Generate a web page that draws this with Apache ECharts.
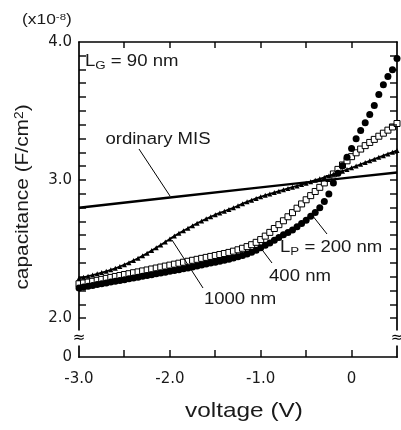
<!DOCTYPE html>
<html>
<head>
<meta charset="utf-8">
<script src="https://cdn.jsdelivr.net/npm/echarts@6/dist/echarts.min.js"></script>
<style>
html, body { margin: 0; padding: 0; background: #fff; }
#chart { width: 401px; height: 430px; }
</style>
</head>
<body>
<div id="chart"></div>
<script>
// gate voltage (V), same sweep for the three L_P curves
const voltage = [
  -3.00, -2.95, -2.90, -2.85, -2.80, -2.75, -2.70, -2.65, -2.60, -2.55,
  -2.50, -2.45, -2.40, -2.35, -2.30, -2.25, -2.20, -2.15, -2.10, -2.05,
  -2.00, -1.95, -1.90, -1.85, -1.80, -1.75, -1.70, -1.65, -1.60, -1.55,
  -1.50, -1.45, -1.40, -1.35, -1.30, -1.25, -1.20, -1.15, -1.10, -1.05,
  -1.00, -0.95, -0.90, -0.85, -0.80, -0.75, -0.70, -0.65, -0.60, -0.55,
  -0.50, -0.45, -0.40, -0.35, -0.30, -0.25, -0.20, -0.15, -0.10, -0.05,
  0.00, 0.05, 0.10, 0.15, 0.20, 0.25, 0.30, 0.35, 0.40, 0.45, 0.50
];
// capacitance (x1e-8 F/cm2)
const cap200 = [
  2.220, 2.226, 2.232, 2.238, 2.244, 2.250, 2.256, 2.262, 2.268, 2.274,
  2.280, 2.286, 2.292, 2.298, 2.304, 2.310, 2.316, 2.322, 2.328, 2.334,
  2.340, 2.346, 2.352, 2.358, 2.365, 2.372, 2.379, 2.386, 2.393, 2.400,
  2.406, 2.413, 2.420, 2.428, 2.436, 2.445, 2.455, 2.466, 2.478, 2.492,
  2.510, 2.528, 2.546, 2.565, 2.585, 2.604, 2.622, 2.640, 2.662, 2.686,
  2.710, 2.738, 2.766, 2.800, 2.845, 2.900, 2.980, 3.050, 3.105, 3.165,
  3.230, 3.300, 3.360, 3.415, 3.475, 3.540, 3.620, 3.690, 3.750, 3.800, 3.880
];
const cap400 = [
  2.250, 2.256, 2.262, 2.268, 2.275, 2.282, 2.289, 2.296, 2.303, 2.310,
  2.317, 2.323, 2.330, 2.336, 2.343, 2.350, 2.357, 2.364, 2.371, 2.378,
  2.385, 2.392, 2.399, 2.406, 2.413, 2.420, 2.427, 2.434, 2.441, 2.448,
  2.455, 2.462, 2.469, 2.477, 2.486, 2.496, 2.507, 2.519, 2.533, 2.550,
  2.570, 2.595, 2.622, 2.650, 2.678, 2.706, 2.735, 2.765, 2.797, 2.828,
  2.858, 2.888, 2.918, 2.948, 2.980, 3.012, 3.045, 3.078, 3.110, 3.140,
  3.170, 3.198, 3.225, 3.250, 3.273, 3.295, 3.318, 3.340, 3.362, 3.385, 3.410
];
const cap1000 = [
  2.290, 2.297, 2.305, 2.313, 2.322, 2.331, 2.340, 2.351, 2.362, 2.375,
  2.388, 2.403, 2.418, 2.435, 2.452, 2.471, 2.490, 2.510, 2.530, 2.552,
  2.575, 2.595, 2.615, 2.634, 2.652, 2.670, 2.688, 2.704, 2.720, 2.735,
  2.750, 2.763, 2.775, 2.788, 2.800, 2.815, 2.830, 2.843, 2.855, 2.868,
  2.880, 2.890, 2.900, 2.910, 2.920, 2.930, 2.940, 2.949, 2.958, 2.968,
  2.978, 2.989, 3.000, 3.010, 3.020, 3.031, 3.042, 3.053, 3.065, 3.077,
  3.090, 3.102, 3.115, 3.127, 3.140, 3.152, 3.165, 3.177, 3.190, 3.202, 3.215
];
// ordinary MIS is a straight line
const misVoltage = [-3.0, -2.0, -1.0, 0.0, 0.5];
const misCap = [2.800, 2.874, 2.948, 3.020, 3.055];

// axes: y is broken below 2.0, bottom of the axis is labelled 0
const xLeft = -3.0;
const xRight = 0.5;
const yBottom = 1.72;
const yTop = 4.0;
const yLabelValues = [yBottom, 2.0, 3.0, 4.0];
const yTickValues = [2.0, 2.1, 2.2, 2.3, 2.4, 2.5, 2.6, 2.7, 2.8, 2.9, 3.0,
  3.1, 3.2, 3.3, 3.4, 3.5, 3.6, 3.7, 3.8, 3.9];
const xLabelValues = [-3.0, -2.0, -1.0, 0.0];
const xTickValues = [-2.5, -2.0, -1.5, -1.0, -0.5, 0.0];

const pairs = (xs, ys) => xs.map((x, i) => [x, ys[i]]);

const FONT = 'Liberation Sans, Arial, sans-serif';
const INK = '#1a1a1a';

let chart = echarts.init(document.getElementById('chart'));

// fresh objects per axis, echarts merges into them
function axisLine() {
  return { show: true, onZero: false, lineStyle: { color: '#000', width: 1.7 } };
}
function tickLabel(values, fmt, margin) {
  return { show: true, customValues: values, formatter: fmt, margin: margin,
    fontFamily: 'DejaVu Sans', fontSize: 15, color: INK };
}

function txt(text, x, y, size, align, extra) {
  return Object.assign({
    type: 'text', x: x, y: y, scaleX: 1.16, z: 10,
    style: {
      text: text, fill: INK, fontFamily: FONT, fontSize: size,
      textAlign: align, textVerticalAlign: 'middle',
      rich: {
        sub: { fontFamily: FONT, fontSize: size * 0.72, fill: INK, verticalAlign: 'bottom', padding: [size * 0.45, 0, 0, 0] },
        sup: { fontFamily: FONT, fontSize: size * 0.66, fill: INK, verticalAlign: 'top', padding: [0, 0, size * 0.4, 0] }
      }
    }
  }, extra || {});
}
function leader(x1, y1, x2, y2) {
  return { type: 'line', z: 10, shape: { x1: x1, y1: y1, x2: x2, y2: y2 }, style: { stroke: '#000', lineWidth: 1 } };
}
// ticks as thin filled rects
function tickBox(x, y, w, h) {
  return { type: 'rect', z: 12, shape: { x: x, y: y, width: w, height: h }, style: { fill: '#000' } };
}
function breakMark(x, y) {
  return { type: 'text', x: x, y: y, z: 20,
    style: { text: '\u2248', fontFamily: 'DejaVu Sans', fontSize: 15, fill: '#000',
      textAlign: 'center', textVerticalAlign: 'middle', backgroundColor: '#fff', padding: [0, 0] } };
}

let option = {
  animation: false,
  grid: { left: 79, right: 4, top: 42, bottom: 73 },
  xAxis: [{
    type: 'value', min: xLeft, max: xRight, interval: 0.5, position: 'bottom',
    axisLine: axisLine(),
    axisTick: { show: false },
    axisLabel: tickLabel(xLabelValues, v => v === 0 ? '0' : v.toFixed(1), 15),
    splitLine: { show: false }
  }, {
    type: 'value', min: xLeft, max: xRight, interval: 0.5, position: 'top',
    axisLine: axisLine(),
    axisTick: { show: false },
    axisLabel: { show: false },
    splitLine: { show: false }
  }],
  yAxis: [{
    type: 'value', min: yBottom, max: yTop, position: 'left',
    axisLine: axisLine(),
    axisTick: { show: false },
    axisLabel: tickLabel(yLabelValues, v => v < 2 ? '0' : v.toFixed(1), 7),
    splitLine: { show: false }
  }, {
    type: 'value', min: yBottom, max: yTop, position: 'right',
    axisLine: axisLine(),
    axisTick: { show: false },
    axisLabel: { show: false },
    splitLine: { show: false }
  }],
  series: [{
    name: 'ordinary MIS',
    type: 'line',
    data: pairs(misVoltage, misCap),
    showSymbol: false,
    clip: false,
    lineStyle: { color: '#000', width: 2.4 }
  }, {
    name: '1000 nm',
    type: 'line',
    data: pairs(voltage, cap1000),
    symbol: 'triangle',
    symbolSize: 5,
    clip: false,
    itemStyle: { color: '#000' },
    lineStyle: { color: '#000', width: 1.8 }
  }, {
    name: '400 nm',
    type: 'scatter',
    data: pairs(voltage, cap400),
    symbol: 'rect',
    symbolSize: 6,
    clip: false,
    itemStyle: { color: '#fff', borderColor: '#000', borderWidth: 1, opacity: 1 }
  }, {
    name: '200 nm',
    type: 'scatter',
    data: pairs(voltage, cap200),
    symbol: 'circle',
    symbolSize: 7,
    clip: false,
    itemStyle: { color: '#000', opacity: 1 }
  }],
  graphic: [
    txt('(x10{sup|-8})', 22, 20, 15, 'left'),
    txt('capacitance (F/cm{sup|2})', 23, 197, 18, 'center', { rotation: Math.PI / 2 }),
    txt('voltage (V)', 244, 411, 21, 'center'),
    txt('L{sub|G} = 90 nm', 85, 62, 16, 'left'),
    txt('ordinary MIS', 158, 140, 16, 'center'),
    txt('L{sub|P} = 200 nm', 280, 248, 16, 'left'),
    txt('400 nm', 300, 277, 16, 'center'),
    txt('1000 nm', 240, 300, 16, 'center'),
    leader(139, 149, 170, 196),
    leader(312, 215, 327, 234),
    leader(260, 247, 272, 263),
    leader(172, 240, 203, 288),
    breakMark(79, 338),
    breakMark(397, 338)
  ]
};
chart.setOption(option);

// inside ticks on all four sides, placed with the axes' own scales
function xPix(v) {
  return Number(chart.convertToPixel({ xAxisIndex: 0 }, v));
}
function yPix(v) {
  return Number(chart.convertToPixel({ yAxisIndex: 0 }, v));
}
const gx0 = xPix(xLeft), gx1 = xPix(xRight);
const gy0 = yPix(yBottom), gy1 = yPix(yTop);
const ticks = [];
xTickValues.forEach(function (v) {
  const px = Math.round(xPix(v));
  ticks.push(tickBox(px - 0.7, gy0 - 7, 1.4, 7));
  ticks.push(tickBox(px - 0.7, gy1, 1.4, 6));
});
yTickValues.forEach(function (v) {
  const py = Math.round(yPix(v));
  ticks.push(tickBox(gx0, py - 0.7, 7, 1.4));
  ticks.push(tickBox(gx1 - 7, py - 0.7, 7, 1.4));
});
chart.setOption({ graphic: option.graphic.concat(ticks) });

window.addEventListener('resize', function () {
  chart.resize();
});
</script>
</body>
</html>
